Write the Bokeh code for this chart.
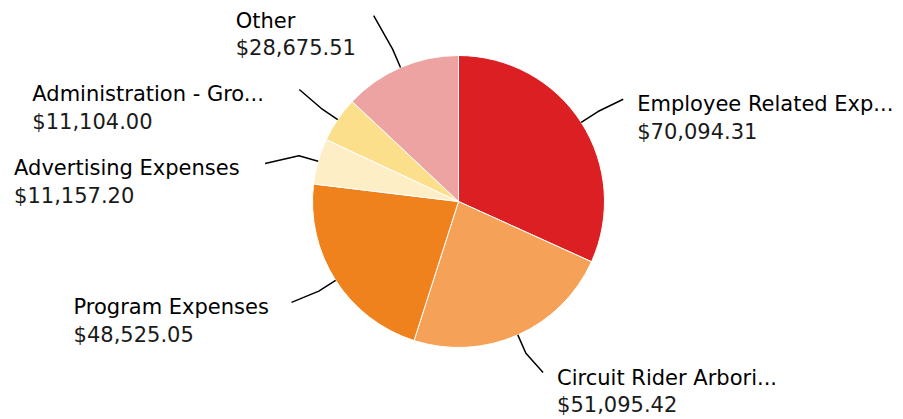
import math
from bokeh.plotting import figure
from bokeh.models import Range1d, ColumnDataSource
from bokeh.core.properties import value
from bokeh.embed import file_html
from bokeh.resources import INLINE

# ---- data ----
names = ["Employee Related Exp...", "Circuit Rider Arbori...", "Program Expenses",
         "Advertising Expenses", "Administration - Gro...", "Other"]
amounts = [70094.31, 51095.42, 48525.05, 11157.20, 11104.00, 28675.51]
colors = ["#dc1f22", "#f5a157", "#f0821e", "#fdeec5", "#fcdf8a", "#eea3a3"]

# ---- layout ----
W, H = 903, 419
CX, CY, R = 458, H - 201, 146
BEND = 20          # connector bend distance outside the pie
LABEL_R = 50       # connector end distance outside the pie
# per-label nudges of connector end (dx, dy in screen px, y down) and text x offset
end_nudge = [(0, 4), (5, -8), (-2, -5), (-5, 16), (3, -2), (-7, -6)]
text_dx = [14, 14, -218, -251, -267, -138]
NAME_DY = 5        # name baseline below connector end
LINE_H = 27.5

total = sum(amounts)
starts, ends, mids = [], [], []
cum = 0.0
for a in amounts:
    s = cum / total
    cum += a
    e = cum / total
    starts.append(math.pi / 2 - 2 * math.pi * s)
    ends.append(math.pi / 2 - 2 * math.pi * e)
    mids.append(math.pi / 2 - 2 * math.pi * (s + e) / 2)

p = figure(width=W, height=H, x_range=Range1d(0, W), y_range=Range1d(0, H),
           x_axis_type=None, y_axis_type=None, min_border=0,
           toolbar_location=None, output_backend="svg")
p.grid.visible = False
p.outline_line_color = None
p.background_fill_color = "white"
p.border_fill_color = "white"

src = ColumnDataSource(dict(start=starts, end=ends, color=colors))
p.wedge(x=CX, y=CY, radius=R, radius_units="screen", start_angle="start", end_angle="end",
        direction="clock", fill_color="color", line_color="white", line_width=1, source=src)

xs, ys = [], []
name_x, name_y, val_x, val_y, vals = [], [], [], [], []
for i, m in enumerate(mids):
    x0, y0 = CX + R * math.cos(m), CY + R * math.sin(m)
    x1, y1 = CX + (R + BEND) * math.cos(m), CY + (R + BEND) * math.sin(m)
    x2 = CX + (R + LABEL_R) * math.cos(m) + end_nudge[i][0]
    y2 = CY + (R + LABEL_R) * math.sin(m) - end_nudge[i][1]
    xs.append([x0, x1, x2])
    ys.append([y0, y1, y2])
    tx = x2 + text_dx[i]
    name_x.append(tx)
    name_y.append(y2 - NAME_DY)
    val_x.append(tx)
    val_y.append(y2 - NAME_DY - LINE_H)
    vals.append("${:,.2f}".format(amounts[i]))

p.multi_line(xs=xs, ys=ys, line_color="#000000", line_width=1.5)

p.text(x=name_x, y=name_y, text=names, text_font=value("DejaVu Sans"), text_font_size="21px",
       text_baseline="alphabetic", text_align="left", text_color="#000000")
p.text(x=val_x, y=val_y, text=vals, text_font=value("DejaVu Sans"), text_font_size="21px",
       text_baseline="alphabetic", text_align="left", text_color="#1a1a1a")

open("out.html", "w").write(file_html(p, INLINE))
